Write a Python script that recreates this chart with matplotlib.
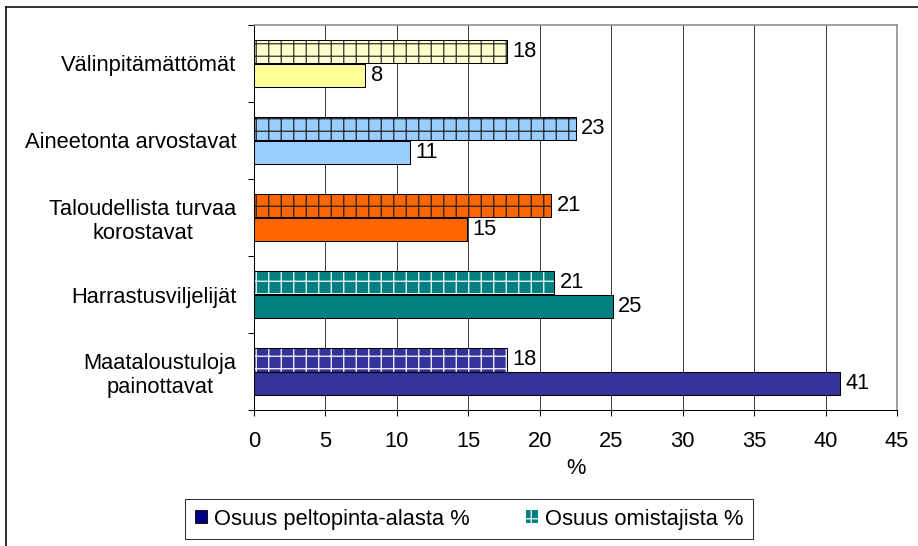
import numpy as np
import matplotlib.pyplot as plt
from matplotlib.patches import Patch
from matplotlib.lines import Line2D

plt.rcParams['font.family'] = ['Liberation Sans', 'DejaVu Sans']
plt.rcParams['hatch.linewidth'] = 1.2

# Data (top to bottom)
categories = ["Välinpitämättömät", "Aineetonta arvostavat",
              "Taloudellista turvaa\nkorostavat", "Harrastusviljelijät",
              "Maataloustuloja\npainottavat"]
omistajista = [17.7, 22.5, 20.8, 21.0, 17.7]      # Osuus omistajista %
pelto = [7.8, 10.9, 14.9, 25.1, 41.0]             # Osuus peltopinta-alasta %
omistajista_labels = ["18", "23", "21", "21", "18"]
pelto_labels = ["8", "11", "15", "25", "41"]

area_colors = ["#FFFF99", "#99CCFF", "#FF6600", "#008080", "#333399"]
owner_colors = ["#FFFFCC", "#99CCFF", "#FF6600", "#008080", "#333399"]
hatch_colors = ["#333333", "#222222", "#222222", "#FFFFFF", "#FFFFFF"]

DPI = 75
fig = plt.figure(figsize=(918 / DPI, 546 / DPI), dpi=DPI)
ax = fig.add_axes([254 / 918, 1 - 410 / 546, (897 - 254) / 918, (410 - 25) / 546])

y = np.arange(len(categories))
h = 0.3
fs = 21

for i in range(len(categories)):
    # hatched bar (owners)
    ax.barh(y[i] - h / 2, omistajista[i], height=h, color=owner_colors[i],
            hatch='+', edgecolor=hatch_colors[i], linewidth=0, zorder=3)
    ax.barh(y[i] - h / 2, omistajista[i], height=h, fill=False,
            edgecolor='black', linewidth=1.0, zorder=4)
    # solid bar (field area)
    ax.barh(y[i] + h / 2, pelto[i], height=h, color=area_colors[i],
            edgecolor='black', linewidth=1.0, zorder=3)
    ax.text(omistajista[i] + 0.4, y[i] - h / 2, omistajista_labels[i],
            va='center', ha='left', fontsize=fs, zorder=5)
    ax.text(pelto[i] + 0.4, y[i] + h / 2, pelto_labels[i],
            va='center', ha='left', fontsize=fs, zorder=5)

ax.set_xlim(0, 45)
ax.set_ylim(len(categories) - 0.5, -0.5)
ax.set_xticks(np.arange(0, 46, 5))
ax.tick_params(axis='x', labelsize=fs, length=6, width=1, pad=14, color='black')
ax.xaxis.grid(True, color='#333333', linewidth=0.9, zorder=0)
ax.set_axisbelow(True)
ax.set_xlabel("%", fontsize=fs, labelpad=6)

ax.set_yticks(np.arange(-0.5, len(categories), 1.0))
ax.set_yticklabels([])
ax.tick_params(axis='y', which='major', length=6, width=1, direction='out')
ax.set_yticks(y, categories, minor=True)
ax.tick_params(axis='y', which='minor', length=0, pad=17, labelsize=fs)
for lab in ax.get_yticklabels(minor=True):
    lab.set_multialignment('center')

for side in ['top', 'right']:
    ax.spines[side].set_color('#888888')
    ax.spines[side].set_linewidth(1.5)
for side in ['left', 'bottom']:
    ax.spines[side].set_color('black')
    ax.spines[side].set_linewidth(1.0)

handles = [Patch(facecolor='#000080', edgecolor='black', linewidth=0.8),
           Patch(facecolor='#008080', edgecolor='white', hatch='+', linewidth=0)]
leg = fig.legend(handles, ["Osuus peltopinta-alasta %", "Osuus omistajista %"],
                 loc='center', bbox_to_anchor=(469 / 918, 1 - 519 / 546), ncol=2,
                 fontsize=fs, frameon=True, fancybox=False, framealpha=1,
                 edgecolor='#333333', handlelength=0.55, handleheight=0.55,
                 handletextpad=0.3, columnspacing=2.6, borderpad=0.45,
                 borderaxespad=0)
leg.get_frame().set_linewidth(1.0)

# outer chart border (left and top visible)
fig.add_artist(Line2D([6 / 918, 6 / 918], [0, 1 - 7 / 546], transform=fig.transFigure,
                      color='black', linewidth=1.5))
fig.add_artist(Line2D([6 / 918, 1], [1 - 7 / 546, 1 - 7 / 546], transform=fig.transFigure,
                      color='black', linewidth=1.5))

fig.savefig("out.png", dpi=DPI)
